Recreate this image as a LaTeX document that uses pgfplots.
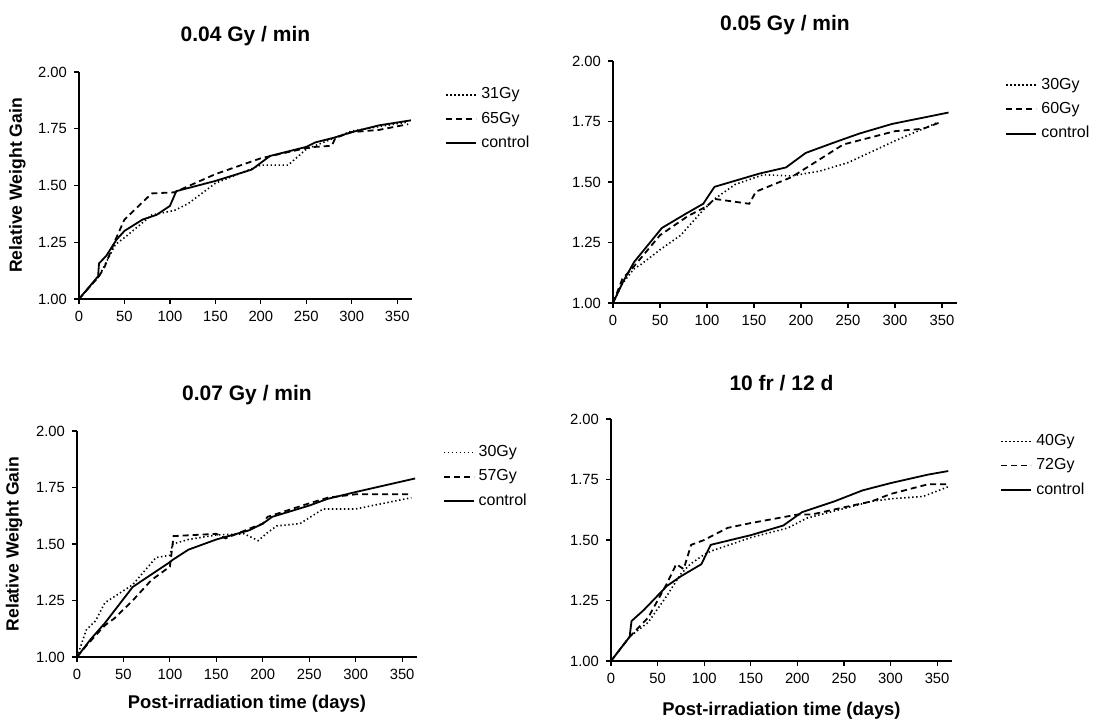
\documentclass[border=0pt]{standalone}
\usepackage{fontspec}
\setmainfont{Liberation Sans}
\usepackage{pgfplots}
\pgfplotsset{compat=1.18}

\pgfplotsset{
  panel/.style={
    scale only axis,
    axis lines=left,
    axis line style={-, line width=0.7pt},
    xmin=0, xmax=366, ymin=1, ymax=2,
    xtick={0,50,...,350},
    ytick={1,1.25,1.5,1.75,2},
    tick align=outside,
    major tick length=2.5pt,
    tick style={line width=0.6pt, black},
    /pgf/number format/assume math mode=true,
    every tick label/.append style={font=\fontsize{7.4}{8}\selectfont},
    yticklabel style={/pgf/number format/.cd, fixed, fixed zerofill, precision=2},
    every axis title/.style={font=\bfseries\fontsize{10.5}{12}\selectfont, at={(0.5,1)}, anchor=center, yshift=18pt},
    every axis y label/.style={at={(axis description cs:-0.185,0.5)}, rotate=90, anchor=center, font=\bfseries\fontsize{8.8}{10}\selectfont},
    every axis x label/.style={at={(axis description cs:0.5,0)}, anchor=center, yshift=-23.5pt, font=\bfseries\fontsize{9.2}{10}\selectfont},
    legend style={draw=none, fill=none, inner sep=0pt, anchor=north west,
      font=\fontsize{8}{9}\selectfont, row sep=1pt, cells={anchor=west}},
    legend image code/.code={\draw[#1] (0pt,0pt) -- (15pt,0pt);},
    clip=false,
  },
  dotS/.style={black, line width=0.8pt, dash pattern=on 0.7pt off 1.3pt},
  dashS/.style={black, line width=0.9pt, dash pattern=on 3pt off 2pt},
  solS/.style={black, line width=0.9pt},
}

\begin{document}
\begin{tikzpicture}
\useasboundingbox (0,0) rectangle (554pt,361pt);

% top left
\begin{axis}[panel, at={(39.5pt,211.5pt)}, anchor=south west,
  width=166.4pt, height=113.5pt,
  title={0.04 Gy / min}, ylabel={Relative Weight Gain},
  legend style={at={(1.10,0.95)}}]
\addplot[dotS] coordinates {(0,1.00) (22,1.10) (40,1.24) (50,1.27) (80,1.37) (105,1.39) (120,1.42) (150,1.51) (200,1.59) (230,1.59) (250,1.66) (300,1.74) (362,1.78)};
\addlegendentry{31Gy}
\addplot[dashS] coordinates {(0,1.00) (22,1.10) (28,1.14) (40,1.26) (50,1.35) (80,1.465) (105,1.47) (150,1.55) (200,1.62) (250,1.665) (260,1.67) (278,1.675) (282,1.71) (300,1.735) (330,1.745) (362,1.77)};
\addlegendentry{65Gy}
\addplot[solS] coordinates {(0,1.00) (21,1.10) (22,1.157) (30,1.19) (41,1.26) (50,1.30) (70,1.35) (85,1.37) (100,1.41) (107,1.475) (150,1.52) (190,1.57) (210,1.63) (250,1.67) (260,1.69) (280,1.71) (300,1.735) (330,1.765) (365,1.787)};
\addlegendentry{control}
\end{axis}

% top right
\begin{axis}[panel, at={(306.5pt,209.5pt)}, anchor=south west,
  width=172pt, height=121pt,
  title={0.05 Gy / min},
  legend style={at={(1.14,0.948)}}]
\addplot[dotS] coordinates {(0,1.00) (10,1.08) (22,1.14) (30,1.16) (50,1.22) (72,1.28) (95,1.38) (108,1.43) (130,1.49) (160,1.53) (190,1.525) (220,1.545) (250,1.58) (300,1.67) (345,1.745)};
\addlegendentry{30Gy}
\addplot[dashS] coordinates {(0,1.00) (10,1.10) (22,1.15) (50,1.28) (80,1.36) (100,1.40) (108,1.43) (145,1.41) (152,1.46) (190,1.52) (245,1.655) (300,1.71) (330,1.72) (347,1.745)};
\addlegendentry{60Gy}
\addplot[solS] coordinates {(0,1.00) (11,1.09) (22.6,1.17) (52,1.31) (78,1.37) (96,1.41) (108,1.48) (156,1.535) (184,1.56) (205,1.62) (233,1.66) (262,1.70) (297,1.74) (357,1.787)};
\addlegendentry{control}
\end{axis}

% bottom left
\begin{axis}[panel, at={(38.5pt,32.5pt)}, anchor=south west,
  width=170pt, height=113pt,
  title={0.07 Gy / min}, ylabel={Relative Weight Gain},
  xlabel={Post-irradiation time (days)},
  legend style={at={(1.075,0.955)}}]
\addplot[dotS] coordinates {(0,1.00) (10,1.12) (20,1.16) (30,1.24) (60,1.32) (85,1.44) (100,1.45) (103,1.50) (120,1.52) (150,1.54) (180,1.545) (195,1.515) (205,1.55) (215,1.58) (240,1.59) (265,1.655) (300,1.655) (360,1.705)};
\addlegendentry{30Gy}
\addplot[dashS] coordinates {(0,1.00) (10,1.05) (30,1.14) (40,1.17) (60,1.25) (80,1.34) (100,1.40) (104,1.535) (150,1.545) (160,1.525) (190,1.575) (200,1.59) (205,1.62) (250,1.68) (270,1.705) (300,1.72) (360,1.72)};
\addlegendentry{57Gy}
\addplot[solS] coordinates {(0,1.00) (15,1.08) (30,1.15) (45,1.23) (60,1.31) (100,1.42) (103,1.43) (120,1.475) (150,1.52) (185,1.56) (200,1.59) (210,1.62) (250,1.67) (270,1.70) (300,1.73) (364,1.79)};
\addlegendentry{control}
\end{axis}

% bottom right
\begin{axis}[panel, at={(305.5pt,30.5pt)}, anchor=south west,
  width=170.5pt, height=121pt,
  title={10 fr / 12 d},
  xlabel={Post-irradiation time (days)},
  every axis x label/.append style={yshift=-1.5pt},
  legend style={at={(1.141,0.955)}}]
\addplot[dotS] coordinates {(0,1.00) (20,1.10) (40,1.16) (60,1.27) (75,1.36) (85,1.40) (100,1.44) (108,1.455) (150,1.51) (190,1.55) (210,1.59) (250,1.63) (280,1.66) (300,1.67) (335,1.68) (362,1.72)};
\addlegendentry{40Gy}
\addplot[dashS] coordinates {(0,1.00) (10,1.05) (20,1.10) (40,1.18) (60,1.32) (70,1.40) (78,1.38) (86,1.48) (100,1.50) (125,1.55) (150,1.57) (200,1.605) (215,1.605) (250,1.635) (280,1.66) (300,1.69) (340,1.73) (362,1.73)};
\addlegendentry{72Gy}
\addplot[solS] coordinates {(0,1.00) (10,1.05) (20,1.10) (22,1.165) (35,1.21) (60,1.31) (75,1.35) (97,1.40) (107,1.48) (150,1.52) (185,1.56) (205,1.615) (240,1.66) (270,1.705) (300,1.735) (340,1.77) (362,1.785)};
\addlegendentry{control}
\end{axis}
\end{tikzpicture}
\end{document}
